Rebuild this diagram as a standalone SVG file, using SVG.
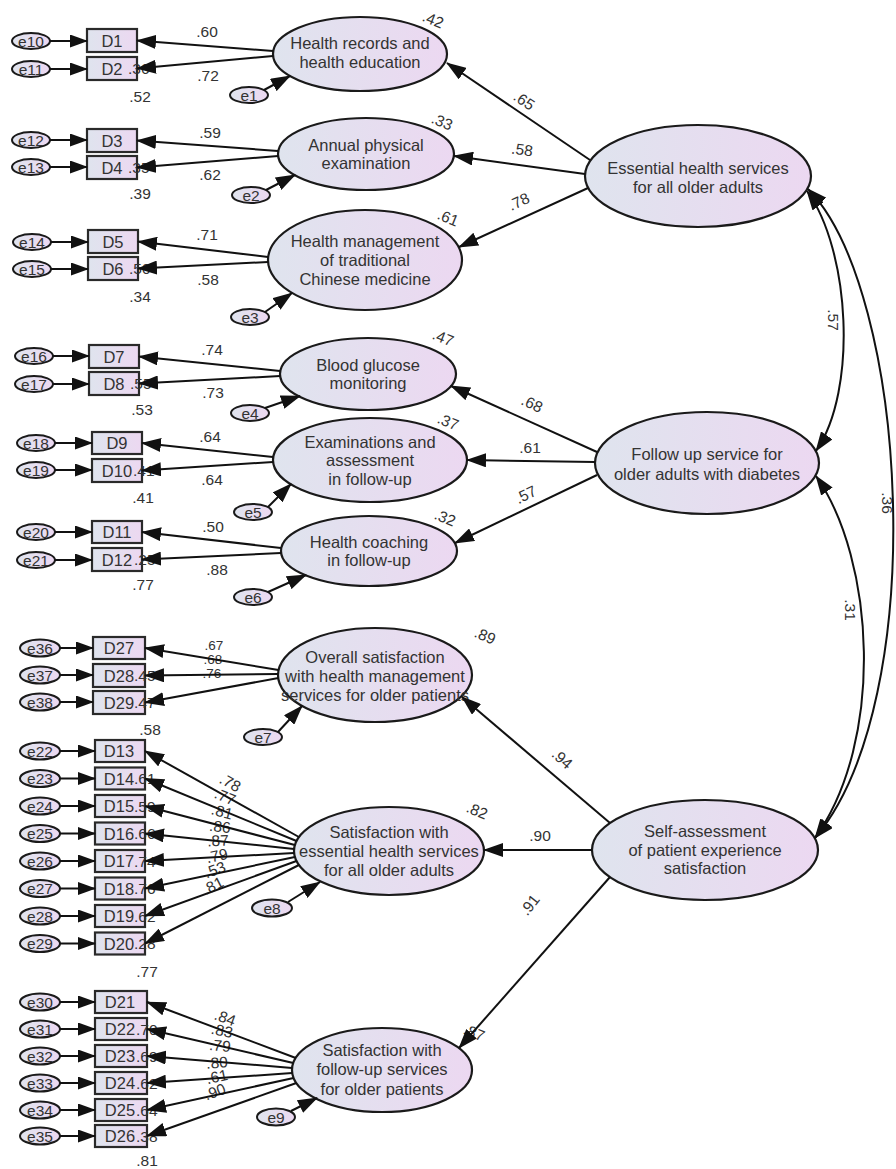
<svg xmlns="http://www.w3.org/2000/svg" width="896" height="1169" viewBox="0 0 896 1169">
<defs>
<linearGradient id="g" x1="0" y1="0" x2="1" y2="0">
<stop offset="0" stop-color="#dfe4ee"/>
<stop offset="1" stop-color="#ecd8f1"/>
</linearGradient>
<marker id="ah" markerUnits="userSpaceOnUse" markerWidth="20" markerHeight="14" refX="19" refY="7" orient="auto-start-reverse" viewBox="0 0 20 14">
<path d="M0,0 L20,7 L0,14 z" fill="#111"/>
</marker>
<marker id="as" markerUnits="userSpaceOnUse" markerWidth="18" markerHeight="13" refX="17" refY="6.5" orient="auto" viewBox="0 0 18 13">
<path d="M0,0 L18,6.5 L0,13 z" fill="#111"/>
</marker>
</defs>
<style>
.lat{fill:url(#g);stroke:#1a1a1a;stroke-width:2.2}
.obs{fill:url(#g);stroke:#2a2a2a;stroke-width:2.2}
.err{fill:url(#g);stroke:#1a1a1a;stroke-width:2}
text{font-family:"Liberation Sans",Arial,sans-serif;fill:#333}
.lt{font-size:16.5px;text-anchor:middle}
.ot{font-size:16.5px;text-anchor:middle}
.et{font-size:15.5px;text-anchor:middle}
.v{font-size:15.5px;text-anchor:middle}
.vsm{font-size:13.5px;text-anchor:middle}
.vs{font-size:15.5px;text-anchor:start}
.c{stroke:#111;stroke-width:2;fill:none;marker-end:url(#ah)}
.ce{stroke:#111;stroke-width:2;fill:none;marker-end:url(#as)}
.cv{stroke:#111;stroke-width:2;fill:none;marker-start:url(#ah);marker-end:url(#ah)}
</style>
<rect width="896" height="1169" fill="#fff"/>

<!-- ===== second-order latents ===== -->
<g id="essential"><ellipse class="lat" cx="698" cy="176" rx="113" ry="51"/><text class="lt" x="698" y="173.5">Essential health services</text><text class="lt" x="698" y="192.5">for all older adults</text></g>
<g id="followup"><ellipse class="lat" cx="707" cy="463" rx="112" ry="51"/><text class="lt" x="707" y="459.5">Follow up service for</text><text class="lt" x="707" y="479.5">older adults with diabetes</text></g>
<g id="selfassess"><ellipse class="lat" cx="705" cy="850" rx="113" ry="50"/><text class="lt" x="705" y="836.5">Self-assessment</text><text class="lt" x="705" y="855.5">of patient experience</text><text class="lt" x="705" y="873.5">satisfaction</text></g>

<!-- ===== first-order latents ===== -->
<g id="F1"><ellipse class="lat" cx="360" cy="54" rx="87" ry="37"/><text class="lt" x="360" y="48.5">Health records and</text><text class="lt" x="360" y="67.5">health education</text></g>
<g id="F2"><ellipse class="lat" cx="366" cy="154" rx="88" ry="36"/><text class="lt" x="366" y="150.5">Annual physical</text><text class="lt" x="366" y="169">examination</text></g>
<g id="F3"><ellipse class="lat" cx="365" cy="260" rx="97" ry="50"/><text class="lt" x="365" y="247">Health management</text><text class="lt" x="365" y="266">of traditional</text><text class="lt" x="365" y="285">Chinese medicine</text></g>
<g id="F4"><ellipse class="lat" cx="368" cy="374" rx="88" ry="36"/><text class="lt" x="368" y="370.5">Blood glucose</text><text class="lt" x="368" y="389">monitoring</text></g>
<g id="F5"><ellipse class="lat" cx="370" cy="460" rx="97" ry="42"/><text class="lt" x="370" y="447.5">Examinations and</text><text class="lt" x="370" y="466">assessment</text><text class="lt" x="370" y="484.5">in follow-up</text></g>
<g id="F6"><ellipse class="lat" cx="369" cy="551" rx="88" ry="35"/><text class="lt" x="369" y="547.5">Health coaching</text><text class="lt" x="369" y="566">in follow-up</text></g>
<g id="F7"><ellipse class="lat" cx="375" cy="675" rx="97" ry="47"/><text class="lt" x="375" y="662.5">Overall satisfaction</text><text class="lt" x="375" y="681.5">with health management</text><text class="lt" x="375" y="700.5">services for older patients</text></g>
<g id="F8"><ellipse class="lat" cx="389" cy="851" rx="95" ry="44"/><text class="lt" x="389" y="838">Satisfaction with</text><text class="lt" x="389" y="857">essential health services</text><text class="lt" x="389" y="876">for all older adults</text></g>
<g id="F9"><ellipse class="lat" cx="382" cy="1070" rx="90" ry="42"/><text class="lt" x="382" y="1055.5">Satisfaction with</text><text class="lt" x="382" y="1075">follow-up services</text><text class="lt" x="382" y="1094.5">for older patients</text></g>

<!-- ===== latent residuals ===== -->
<g id="e1"><ellipse class="err" cx="249" cy="95" rx="19" ry="8"/><text class="et" x="249" y="100.5">e1</text></g>
<g id="e2"><ellipse class="err" cx="251" cy="195" rx="19" ry="8"/><text class="et" x="251" y="200.5">e2</text></g>
<g id="e3"><ellipse class="err" cx="250" cy="317" rx="19" ry="8"/><text class="et" x="250" y="322.5">e3</text></g>
<g id="e4"><ellipse class="err" cx="250" cy="413" rx="19" ry="8"/><text class="et" x="250" y="418.5">e4</text></g>
<g id="e5"><ellipse class="err" cx="253" cy="512" rx="19" ry="8"/><text class="et" x="253" y="517.5">e5</text></g>
<g id="e6"><ellipse class="err" cx="253" cy="597" rx="19" ry="8"/><text class="et" x="253" y="602.5">e6</text></g>
<g id="e7"><ellipse class="err" cx="263" cy="737" rx="19" ry="8"/><text class="et" x="263" y="742.5">e7</text></g>
<g id="e8"><ellipse class="err" cx="272" cy="908" rx="20" ry="8.5"/><text class="et" x="272" y="913.5">e8</text></g>
<g id="e9"><ellipse class="err" cx="276" cy="1117" rx="19" ry="8.5"/><text class="et" x="276" y="1122.5">e9</text></g>

<!-- ===== observed variables ===== -->
<g id="D1"><rect class="obs" x="87" y="29" width="50" height="23"/><text class="ot" x="112" y="46.5">D1</text></g>
<g id="D2"><rect class="obs" x="87" y="57" width="50" height="23"/><text class="ot" x="112" y="74.5">D2</text></g>
<g id="D3"><rect class="obs" x="87" y="129" width="50" height="23"/><text class="ot" x="112" y="146.5">D3</text></g>
<g id="D4"><rect class="obs" x="87" y="156" width="50" height="23"/><text class="ot" x="112" y="173.5">D4</text></g>
<g id="D5"><rect class="obs" x="88" y="230" width="50" height="23"/><text class="ot" x="113" y="247.5">D5</text></g>
<g id="D6"><rect class="obs" x="88" y="257" width="50" height="23"/><text class="ot" x="113" y="274.5">D6</text></g>
<g id="D7"><rect class="obs" x="89" y="345" width="50" height="23"/><text class="ot" x="114" y="362.5">D7</text></g>
<g id="D8"><rect class="obs" x="89" y="372" width="50" height="23"/><text class="ot" x="114" y="389.5">D8</text></g>
<g id="D9"><rect class="obs" x="92" y="432" width="50" height="22"/><text class="ot" x="117" y="449">D9</text></g>
<g id="D10"><rect class="obs" x="92" y="459" width="50" height="23"/><text class="ot" x="117" y="476.5">D10</text></g>
<g id="D11"><rect class="obs" x="92" y="521" width="50" height="22"/><text class="ot" x="117" y="538">D11</text></g>
<g id="D12"><rect class="obs" x="92" y="548" width="50" height="23"/><text class="ot" x="117" y="565.5">D12</text></g>
<g id="D27"><rect class="obs" x="93" y="637" width="52" height="22"/><text class="ot" x="119" y="654">D27</text></g>
<g id="D28"><rect class="obs" x="93" y="664" width="52" height="23"/><text class="ot" x="119" y="681.5">D28</text></g>
<g id="D29"><rect class="obs" x="93" y="691" width="52" height="23"/><text class="ot" x="119" y="708.5">D29</text></g>
<g id="D13"><rect class="obs" x="95" y="740" width="50" height="22"/><text class="ot" x="119" y="757">D13</text></g>
<g id="D14"><rect class="obs" x="95" y="767.5" width="50" height="22"/><text class="ot" x="119" y="784.5">D14</text></g>
<g id="D15"><rect class="obs" x="95" y="795" width="50" height="22"/><text class="ot" x="119" y="812">D15</text></g>
<g id="D16"><rect class="obs" x="95" y="822.5" width="50" height="22"/><text class="ot" x="119" y="839.5">D16</text></g>
<g id="D17"><rect class="obs" x="95" y="850" width="50" height="22"/><text class="ot" x="119" y="867">D17</text></g>
<g id="D18"><rect class="obs" x="95" y="877.5" width="50" height="22"/><text class="ot" x="119" y="894.5">D18</text></g>
<g id="D19"><rect class="obs" x="95" y="905" width="50" height="22"/><text class="ot" x="119" y="922">D19</text></g>
<g id="D20"><rect class="obs" x="95" y="932.5" width="50" height="22"/><text class="ot" x="119" y="949.5">D20</text></g>
<g id="D21"><rect class="obs" x="95" y="991" width="52" height="22"/><text class="ot" x="120" y="1008">D21</text></g>
<g id="D22"><rect class="obs" x="95" y="1018" width="52" height="22"/><text class="ot" x="120" y="1035">D22</text></g>
<g id="D23"><rect class="obs" x="95" y="1045" width="52" height="22"/><text class="ot" x="120" y="1062">D23</text></g>
<g id="D24"><rect class="obs" x="95" y="1072" width="52" height="22"/><text class="ot" x="120" y="1089">D24</text></g>
<g id="D25"><rect class="obs" x="95" y="1099" width="52" height="22"/><text class="ot" x="120" y="1116">D25</text></g>
<g id="D26"><rect class="obs" x="95" y="1125" width="52" height="22"/><text class="ot" x="120" y="1142">D26</text></g>

<!-- ===== indicator errors ===== -->
<g id="e10"><ellipse class="err" cx="31" cy="41" rx="19" ry="8"/><text class="et" x="31" y="46.5">e10</text></g>
<g id="e11"><ellipse class="err" cx="31" cy="69" rx="19" ry="8"/><text class="et" x="31" y="74.5">e11</text></g>
<g id="e12"><ellipse class="err" cx="31" cy="140" rx="19" ry="8"/><text class="et" x="31" y="145.5">e12</text></g>
<g id="e13"><ellipse class="err" cx="31" cy="167" rx="19" ry="8"/><text class="et" x="31" y="172.5">e13</text></g>
<g id="e14"><ellipse class="err" cx="32" cy="242" rx="19" ry="8"/><text class="et" x="32" y="247.5">e14</text></g>
<g id="e15"><ellipse class="err" cx="32" cy="269" rx="19" ry="8"/><text class="et" x="32" y="274.5">e15</text></g>
<g id="e16"><ellipse class="err" cx="34" cy="356" rx="19" ry="8"/><text class="et" x="34" y="361.5">e16</text></g>
<g id="e17"><ellipse class="err" cx="34" cy="384" rx="19" ry="8"/><text class="et" x="34" y="389.5">e17</text></g>
<g id="e18"><ellipse class="err" cx="36" cy="443" rx="19" ry="8"/><text class="et" x="36" y="448.5">e18</text></g>
<g id="e19"><ellipse class="err" cx="36" cy="470" rx="19" ry="8"/><text class="et" x="36" y="475.5">e19</text></g>
<g id="e20"><ellipse class="err" cx="36" cy="532" rx="19" ry="8"/><text class="et" x="36" y="537.5">e20</text></g>
<g id="e21"><ellipse class="err" cx="36" cy="560" rx="19" ry="8"/><text class="et" x="36" y="565.5">e21</text></g>
<g id="e36"><ellipse class="err" cx="40" cy="648" rx="20" ry="8.5"/><text class="et" x="40" y="653.5">e36</text></g>
<g id="e37"><ellipse class="err" cx="40" cy="675" rx="20" ry="8.5"/><text class="et" x="40" y="680.5">e37</text></g>
<g id="e38"><ellipse class="err" cx="40" cy="702" rx="20" ry="8.5"/><text class="et" x="40" y="707.5">e38</text></g>
<g id="e22"><ellipse class="err" cx="40" cy="751" rx="20" ry="8.5"/><text class="et" x="40" y="756.5">e22</text></g>
<g id="e23"><ellipse class="err" cx="40" cy="778.5" rx="20" ry="8.5"/><text class="et" x="40" y="784">e23</text></g>
<g id="e24"><ellipse class="err" cx="40" cy="806" rx="20" ry="8.5"/><text class="et" x="40" y="811.5">e24</text></g>
<g id="e25"><ellipse class="err" cx="40" cy="833.5" rx="20" ry="8.5"/><text class="et" x="40" y="839">e25</text></g>
<g id="e26"><ellipse class="err" cx="40" cy="861" rx="20" ry="8.5"/><text class="et" x="40" y="866.5">e26</text></g>
<g id="e27"><ellipse class="err" cx="40" cy="888.5" rx="20" ry="8.5"/><text class="et" x="40" y="894">e27</text></g>
<g id="e28"><ellipse class="err" cx="40" cy="916" rx="20" ry="8.5"/><text class="et" x="40" y="921.5">e28</text></g>
<g id="e29"><ellipse class="err" cx="40" cy="943.5" rx="20" ry="8.5"/><text class="et" x="40" y="949">e29</text></g>
<g id="e30"><ellipse class="err" cx="40" cy="1002" rx="20" ry="8.5"/><text class="et" x="40" y="1007.5">e30</text></g>
<g id="e31"><ellipse class="err" cx="40" cy="1029" rx="20" ry="8.5"/><text class="et" x="40" y="1034.5">e31</text></g>
<g id="e32"><ellipse class="err" cx="40" cy="1056" rx="20" ry="8.5"/><text class="et" x="40" y="1061.5">e32</text></g>
<g id="e33"><ellipse class="err" cx="40" cy="1083" rx="20" ry="8.5"/><text class="et" x="40" y="1088.5">e33</text></g>
<g id="e34"><ellipse class="err" cx="40" cy="1110" rx="20" ry="8.5"/><text class="et" x="40" y="1115.5">e34</text></g>
<g id="e35"><ellipse class="err" cx="40" cy="1136" rx="20" ry="8.5"/><text class="et" x="40" y="1141.5">e35</text></g>

<!-- ===== labels (estimates) ===== -->
<g id="labels">
<text class="vs" x="128" y="74">.36</text>
<text class="v" x="140" y="102">.52</text>
<text class="vs" x="128" y="173">.35</text>
<text class="v" x="140" y="199">.39</text>
<text class="vs" x="129" y="274">.50</text>
<text class="v" x="140" y="302">.34</text>
<text class="vs" x="130" y="389">.55</text>
<text class="v" x="142" y="415">.53</text>
<text class="vs" x="133" y="476">.41</text>
<text class="v" x="143" y="503">.41</text>
<text class="vs" x="134" y="565">.25</text>
<text class="v" x="143" y="590">.77</text>
<text class="vs" x="134" y="681">.45</text>
<text class="vs" x="134" y="708">.47</text>
<text class="v" x="150" y="735">.58</text>
<text class="vs" x="134" y="784">.61</text>
<text class="vs" x="134" y="811.5">.59</text>
<text class="vs" x="134" y="839">.66</text>
<text class="vs" x="134" y="866.5">.74</text>
<text class="vs" x="134" y="894">.76</text>
<text class="vs" x="134" y="921.5">.62</text>
<text class="vs" x="134" y="949">.28</text>
<text class="v" x="147" y="977">.77</text>
<text class="vs" x="136" y="1034.5">.70</text>
<text class="vs" x="136" y="1061.5">.69</text>
<text class="vs" x="136" y="1088.5">.62</text>
<text class="vs" x="136" y="1115.5">.64</text>
<text class="vs" x="136" y="1141.5">.38</text>
<text class="v" x="147" y="1166">.81</text>
<text class="v" transform="translate(433,20) rotate(22)" x="0" y="5">.42</text>
<text class="v" transform="translate(442,122) rotate(22)" x="0" y="5">.33</text>
<text class="v" transform="translate(448,218) rotate(22)" x="0" y="5">.61</text>
<text class="v" transform="translate(443,338) rotate(22)" x="0" y="5">.47</text>
<text class="v" transform="translate(448,422) rotate(22)" x="0" y="5">.37</text>
<text class="v" transform="translate(445,518) rotate(22)" x="0" y="5">.32</text>
<text class="v" transform="translate(485,636) rotate(22)" x="0" y="5">.89</text>
<text class="v" transform="translate(477,811) rotate(22)" x="0" y="5">.82</text>
<text class="v" transform="translate(474,1033) rotate(22)" x="0" y="5">.87</text>
<text class="v" x="207" y="37">.60</text>
<text class="v" x="208" y="81">.72</text>
<text class="v" x="210" y="138">.59</text>
<text class="v" x="210" y="180">.62</text>
<text class="v" x="207" y="240">.71</text>
<text class="v" x="208" y="285">.58</text>
<text class="v" x="212" y="355">.74</text>
<text class="v" x="213" y="398">.73</text>
<text class="v" x="210" y="442">.64</text>
<text class="v" x="212" y="485">.64</text>
<text class="v" x="213" y="532">.50</text>
<text class="v" x="217" y="575">.88</text>
<text class="vsm" x="214" y="650">.67</text>
<text class="vsm" x="213" y="664">.68</text>
<text class="vsm" x="212" y="678">.76</text>
<text class="v" transform="translate(230,783) rotate(29)" x="0" y="5">.78</text>
<text class="v" transform="translate(225,797) rotate(22)" x="0" y="5">.77</text>
<text class="v" transform="translate(222,812) rotate(15)" x="0" y="5">.81</text>
<text class="v" transform="translate(220,827) rotate(6)" x="0" y="5">.86</text>
<text class="v" transform="translate(218,841) rotate(-3)" x="0" y="5">.87</text>
<text class="v" transform="translate(217,856) rotate(-12)" x="0" y="5">.79</text>
<text class="v" transform="translate(215,870) rotate(-20)" x="0" y="5">.53</text>
<text class="v" transform="translate(213,886) rotate(-27)" x="0" y="5">.81</text>
<text class="v" transform="translate(225,1018) rotate(20)" x="0" y="5">.84</text>
<text class="v" transform="translate(222,1031) rotate(13)" x="0" y="5">.83</text>
<text class="v" transform="translate(220,1046) rotate(5)" x="0" y="5">.79</text>
<text class="v" transform="translate(217,1063) rotate(-4)" x="0" y="5">.80</text>
<text class="v" transform="translate(217,1077) rotate(-12)" x="0" y="5">.61</text>
<text class="v" transform="translate(215,1092) rotate(-20)" x="0" y="5">.90</text>
<text class="v" transform="translate(524,101) rotate(34)" x="0" y="5">.65</text>
<text class="v" transform="translate(522,150) rotate(8)" x="0" y="5">.58</text>
<text class="v" transform="translate(519,202) rotate(-25)" x="0" y="5">.78</text>
<text class="v" transform="translate(532,404) rotate(25)" x="0" y="5">.68</text>
<text class="v" transform="translate(530,448)" x="0" y="5">.61</text>
<text class="v" transform="translate(526,495) rotate(-26)" x="0" y="5">.57</text>
<text class="v" transform="translate(562,759) rotate(42)" x="0" y="5">.94</text>
<text class="v" transform="translate(540,836)" x="0" y="5">.90</text>
<text class="v" transform="translate(530,905) rotate(-52)" x="0" y="5">.91</text>
<text class="v" transform="translate(833,320) rotate(90)" x="0" y="5">.57</text>
<text class="v" transform="translate(850,610) rotate(90)" x="0" y="5">.31</text>
<text class="v" transform="translate(887,503) rotate(90)" x="0" y="5">.36</text>
</g>

<!-- ===== connectors ===== -->
<g id="connectors">
<line class="ce" x1="50" y1="41" x2="87" y2="41"/>
<line class="ce" x1="50" y1="69" x2="87" y2="69"/>
<line class="ce" x1="50" y1="140" x2="87" y2="140"/>
<line class="ce" x1="50" y1="167" x2="87" y2="167"/>
<line class="ce" x1="51" y1="242" x2="88" y2="242"/>
<line class="ce" x1="51" y1="269" x2="88" y2="269"/>
<line class="ce" x1="53" y1="356" x2="89" y2="356"/>
<line class="ce" x1="53" y1="384" x2="89" y2="384"/>
<line class="ce" x1="55" y1="443" x2="92" y2="443"/>
<line class="ce" x1="55" y1="470" x2="92" y2="470"/>
<line class="ce" x1="55" y1="532" x2="92" y2="532"/>
<line class="ce" x1="55" y1="560" x2="92" y2="560"/>
<line class="ce" x1="60" y1="648" x2="93" y2="648"/>
<line class="ce" x1="60" y1="675" x2="93" y2="675"/>
<line class="ce" x1="60" y1="702" x2="93" y2="702"/>
<line class="ce" x1="60" y1="751" x2="95" y2="751"/>
<line class="ce" x1="60" y1="778.5" x2="95" y2="778.5"/>
<line class="ce" x1="60" y1="806" x2="95" y2="806"/>
<line class="ce" x1="60" y1="833.5" x2="95" y2="833.5"/>
<line class="ce" x1="60" y1="861" x2="95" y2="861"/>
<line class="ce" x1="60" y1="888.5" x2="95" y2="888.5"/>
<line class="ce" x1="60" y1="916" x2="95" y2="916"/>
<line class="ce" x1="60" y1="943.5" x2="95" y2="943.5"/>
<line class="ce" x1="60" y1="1002" x2="95" y2="1002"/>
<line class="ce" x1="60" y1="1029" x2="95" y2="1029"/>
<line class="ce" x1="60" y1="1056" x2="95" y2="1056"/>
<line class="ce" x1="60" y1="1083" x2="95" y2="1083"/>
<line class="ce" x1="60" y1="1110" x2="95" y2="1110"/>
<line class="ce" x1="60" y1="1136" x2="95" y2="1136"/>
<line class="c" x1="273" y1="51" x2="137" y2="40.5"/>
<line class="c" x1="273" y1="56" x2="137" y2="68.5"/>
<line class="c" x1="278" y1="151" x2="137" y2="140.5"/>
<line class="c" x1="278" y1="156" x2="137" y2="167.5"/>
<line class="c" x1="268" y1="257" x2="138" y2="241.5"/>
<line class="c" x1="268" y1="262" x2="138" y2="268.5"/>
<line class="c" x1="280" y1="371" x2="139" y2="356.5"/>
<line class="c" x1="280" y1="376" x2="139" y2="383.5"/>
<line class="c" x1="273" y1="457" x2="142" y2="443"/>
<line class="c" x1="273" y1="462" x2="142" y2="470.5"/>
<line class="c" x1="281" y1="548" x2="142" y2="532"/>
<line class="c" x1="281" y1="553" x2="142" y2="559.5"/>
<line class="c" x1="278.5" y1="670" x2="145" y2="648"/>
<line class="c" x1="278" y1="674" x2="145" y2="675.5"/>
<line class="c" x1="278.5" y1="678" x2="145" y2="702.5"/>
<line class="c" x1="298.9" y1="837" x2="145" y2="751"/>
<line class="c" x1="296.5" y1="841" x2="145" y2="778.5"/>
<line class="c" x1="294.9" y1="845" x2="145" y2="806"/>
<line class="c" x1="294.1" y1="849" x2="145" y2="833.5"/>
<line class="c" x1="294.1" y1="853" x2="145" y2="861"/>
<line class="c" x1="294.9" y1="857" x2="145" y2="888.5"/>
<line class="c" x1="296.5" y1="861" x2="145" y2="916"/>
<line class="c" x1="298.9" y1="865" x2="145" y2="943.5"/>
<line class="c" x1="295.8" y1="1058" x2="147" y2="1002"/>
<line class="c" x1="293.3" y1="1063" x2="147" y2="1029"/>
<line class="c" x1="292.1" y1="1068" x2="147" y2="1056"/>
<line class="c" x1="292.2" y1="1073" x2="147" y2="1083"/>
<line class="c" x1="293.6" y1="1078" x2="147" y2="1110"/>
<line class="c" x1="296.4" y1="1083" x2="147" y2="1136"/>
<line class="c" x1="264" y1="90" x2="290" y2="76"/>
<line class="c" x1="266" y1="190" x2="295" y2="175"/>
<line class="c" x1="265" y1="312" x2="292" y2="293"/>
<line class="c" x1="265" y1="408" x2="300" y2="396"/>
<line class="c" x1="268" y1="507" x2="291" y2="484"/>
<line class="c" x1="268" y1="592" x2="306" y2="575"/>
<line class="c" x1="278" y1="732" x2="302" y2="706"/>
<line class="c" x1="288" y1="902" x2="320" y2="882"/>
<line class="c" x1="291" y1="1111" x2="317" y2="1098"/>
<line class="c" x1="590" y1="160" x2="447" y2="63"/>
<line class="c" x1="585" y1="174" x2="454" y2="156"/>
<line class="c" x1="588" y1="188" x2="459" y2="247"/>
<line class="c" x1="597" y1="452" x2="451" y2="386"/>
<line class="c" x1="595" y1="462" x2="467" y2="460"/>
<line class="c" x1="597" y1="475" x2="455" y2="543"/>
<line class="c" x1="610" y1="823" x2="462" y2="697"/>
<line class="c" x1="592" y1="850" x2="484" y2="850"/>
<line class="c" x1="610" y1="877" x2="459" y2="1048"/>
<path class="cv" d="M807,191 C850,250 858,390 816,451"/>
<path class="cv" d="M808,189 C908,290 932,700 815,838"/>
<path class="cv" d="M816,476 C875,560 885,740 815,838"/>
</g>
</svg>
